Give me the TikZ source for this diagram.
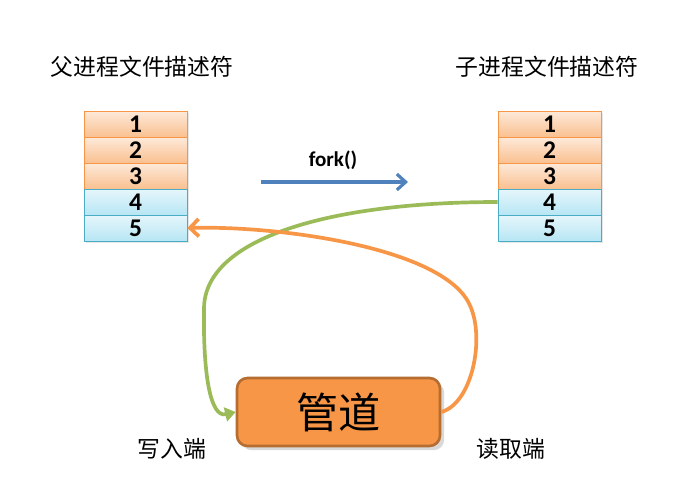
\documentclass[tikz,border=0pt]{standalone}
\usepackage{fontspec}
\setmainfont{Carlito}
\newfontfamily\cjk{Noto Sans CJK SC}
\usetikzlibrary{arrows.meta,shadows}

\definecolor{orangeline}{HTML}{F79646}
\definecolor{orangetop}{HTML}{FDEADA}
\definecolor{orangebot}{HTML}{FAC08F}
\definecolor{blueline}{HTML}{4BACC6}
\definecolor{bluetop}{HTML}{E6F6FB}
\definecolor{bluebot}{HTML}{B7E6F5}
\definecolor{greenline}{HTML}{9BBB59}
\definecolor{forkblue}{HTML}{4F81BD}
\definecolor{pipeedge}{HTML}{B66D31}

\tikzset{
    orangerow/.style={draw=orangeline, top color=orangetop, bottom color=orangebot,
        minimum width=2.06cm, minimum height=0.52cm, inner sep=0pt,
        font=\fontsize{14.5}{14}\selectfont\bfseries,
        drop shadow={opacity=0.2, shadow xshift=0.03cm, shadow yshift=-0.04cm}},
    bluerow/.style={draw=blueline, top color=bluetop, bottom color=bluebot,
        minimum width=2.06cm, minimum height=0.52cm, inner sep=0pt,
        font=\fontsize{14.5}{14}\selectfont\bfseries,
        drop shadow={opacity=0.2, shadow xshift=0.03cm, shadow yshift=-0.04cm}},
    title/.style={font=\cjk\fontsize{13}{14}\selectfont},
    pipebox/.style={draw=pipeedge, line width=1.5pt, fill=orangeline, rounded corners=6pt,
        minimum width=4.06cm, minimum height=1.36cm,
        font=\cjk\fontsize{24}{26}\selectfont, drop shadow={opacity=0.3}},
}

\begin{document}
\begin{tikzpicture}
        \useasboundingbox (0,0) rectangle (13.66,10.06);
        % parent descriptors
        \node[orangerow](p1) at (2.71,7.58) {1};
        \node[orangerow](p2) at (2.71,7.06) {2};
        \node[orangerow](p3) at (2.71,6.54) {3};
        \node[bluerow](p4)   at (2.71,6.02) {4};
        \node[bluerow](p5)   at (2.71,5.50) {5};
        % child descriptors
        \node[orangerow](c1) at (10.99,7.58) {1};
        \node[orangerow](c2) at (10.99,7.06) {2};
        \node[orangerow](c3) at (10.99,6.54) {3};
        \node[bluerow](c4)   at (10.99,6.02) {4};
        \node[bluerow](c5)   at (10.99,5.50) {5};

        \node[title](ptitle) at (2.84,8.72)  {父进程文件描述符};
        \node[title](ctitle) at (10.94,8.72) {子进程文件描述符};

        \node[font=\fontsize{12}{12}\selectfont\bfseries](fork) at (6.66,6.86) {fork()};
        \coordinate (forkA) at (5.22,6.42);
        \coordinate (forkB) at (8.16,6.42);

        \node[pipebox](pipe) at (6.77,1.82) {管道};
        \node[title](write) at (3.44,1.08)  {写入端};
        \node[title](read)  at (10.22,1.08) {读取端};

        \path
            (forkA) edge [-{Straight Barb[length=5pt,width=9pt]}, forkblue, line width=1.8pt] (forkB)
            ;
        \draw[-{Triangle[length=6pt,width=8pt]}, greenline, line width=2.1pt]
            (c4.west) .. controls (6.6,6.02) and (4.1,5.3) .. (4.08,3.9)
                      .. controls (4.06,2.6) and (4.2,1.7) .. (pipe.west);
        \draw[-{Straight Barb[length=5pt,width=10pt]}, orangeline, line width=2.1pt]
            (pipe.east) .. controls (9.45,2.0) and (9.7,3.3) .. (9.4,3.95)
                        .. controls (8.9,5.1) and (5.6,5.55) .. (p5.east);
    \end{tikzpicture}
\end{document}
